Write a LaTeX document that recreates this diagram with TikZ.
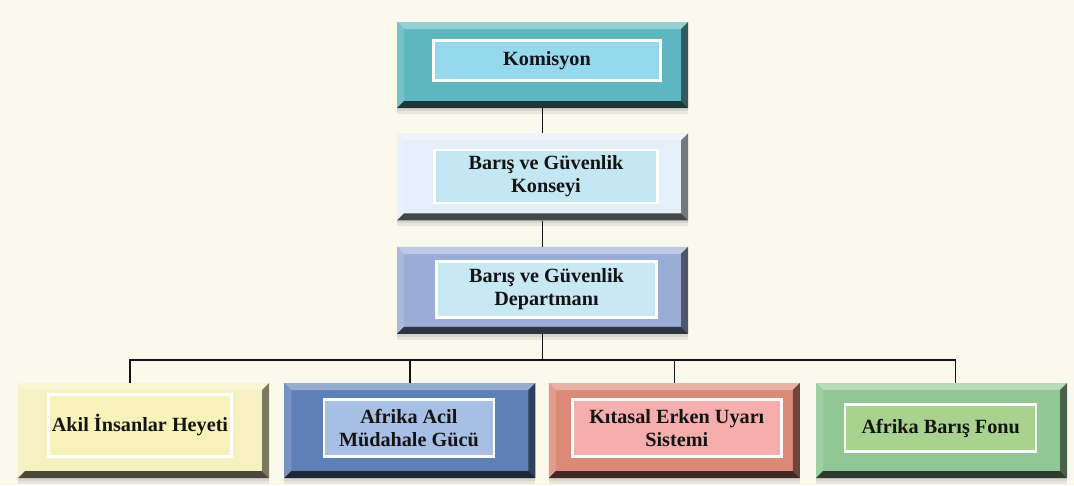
\documentclass[tikz,border=0pt]{standalone}
\usepackage{fontspec}
\setmainfont{Liberation Serif}
\usetikzlibrary{positioning}
\definecolor{paper}{HTML}{FBF8EC}
\definecolor{ink}{HTML}{141414}
\definecolor{komC}{HTML}{5DB7BF}
\definecolor{komI}{HTML}{96D8EC}
\definecolor{konC}{HTML}{E4F0F8}
\definecolor{konI}{HTML}{C5E7F4}
\definecolor{depC}{HTML}{9AADD6}
\definecolor{depI}{HTML}{C8E8F4}
\definecolor{akilC}{HTML}{F6F1C0}
\definecolor{akilI}{HTML}{F7F3B8}
\definecolor{acilC}{HTML}{5F80B7}
\definecolor{acilI}{HTML}{A7BEE5}
\definecolor{kitC}{HTML}{DB8A78}
\definecolor{kitI}{HTML}{F6AEAC}
\definecolor{fonC}{HTML}{91C795}
\definecolor{fonI}{HTML}{A8D28E}

\begin{document}
\begin{tikzpicture}[node distance=25pt, auto]
  \tikzset{
    bevel/.style={rectangle, fill=#1, inner sep=0pt, minimum width=291pt, minimum height=87pt,
      preaction={fill=black, fill opacity=0.07, transform canvas={yshift=-6pt}},
      preaction={fill=black, fill opacity=0.07, transform canvas={yshift=-3pt}},
      path picture={
        \coordinate (pnw) at (path picture bounding box.north west);
        \coordinate (pne) at (path picture bounding box.north east);
        \coordinate (pse) at (path picture bounding box.south east);
        \coordinate (psw) at (path picture bounding box.south west);
        \fill[#1!65!white] (pnw) -- (pne) -- ([shift={(-7pt,-7pt)}]pne) -- ([shift={(7pt,-7pt)}]pnw) -- cycle;
        \fill[#1!85!white] (pnw) -- ([shift={(7pt,-7pt)}]pnw) -- ([shift={(7pt,7pt)}]psw) -- (psw) -- cycle;
        \fill[#1!50!black] (pne) -- (pse) -- ([shift={(-7pt,7pt)}]pse) -- ([shift={(-7pt,-7pt)}]pne) -- cycle;
        \fill[#1!30!black] (psw) -- (pse) -- ([shift={(-7pt,7pt)}]pse) -- ([shift={(7pt,7pt)}]psw) -- cycle;
      }},
    inbox/.style={rectangle, draw=white, line width=2.5pt, fill=#1, inner sep=0pt, align=center,
      text=ink, font=\fontsize{20.2}{23}\selectfont\bfseries},
    low/.style={minimum width=251pt, minimum height=95pt}
  }
  \tikzstyle{line} = [draw, ink, line width=1.4pt]

  \fill[paper] (0,0) rectangle (1074pt,-485pt);

  \node [bevel=komC, minimum height=86pt] (kom) at (542.5pt,-65pt) {};
  \node [bevel=konC, below=25pt of kom] (konsey) {};
  \node [bevel=depC, below=26pt of konsey] (dept) {};
  \node [bevel=akilC, low] (akil) at (143.5pt,-430.5pt) {};
  \node [bevel=acilC, low, right=15pt of akil] (acil) {};
  \node [bevel=kitC, low, right=13pt of acil] (kitasal) {};
  \node [bevel=fonC, low, right=16pt of kitasal] (fonu) {};

  \node [inbox=komI, minimum width=227pt, minimum height=40pt] (kom-t) at ([shift={(4.5pt,4.5pt)}]kom) {Komisyon};
  \node [inbox=konI, minimum width=223pt, minimum height=53pt] (konsey-t) at ([shift={(3.5pt,0.5pt)}]konsey) {Barış ve Güvenlik\\Konseyi};
  \node [inbox=depI, minimum width=220pt, minimum height=56pt] (dept-t) at ([shift={(4pt,1pt)}]dept) {Barış ve Güvenlik\\Departmanı};
  \node [inbox=akilI, minimum width=183pt, minimum height=62pt] (akil-t) at ([shift={(-3.5pt,5pt)}]akil) {Akil İnsanlar Heyeti};
  \node [inbox=acilI, minimum width=170pt, minimum height=57pt] (acil-t) at ([shift={(-1pt,2.5pt)}]acil) {Afrika Acil\\Müdahale Gücü};
  \node [inbox=kitI, minimum width=209pt, minimum height=57pt] (kitasal-t) at ([shift={(2.5pt,2.5pt)}]kitasal) {Kıtasal Erken Uyarı\\Sistemi};
  \node [inbox=fonI, minimum width=191pt, minimum height=47pt] (fonu-t) at ([shift={(-1pt,2.5pt)}]fonu) {Afrika Barış Fonu};

  \coordinate [below=26pt of dept] (bus);

  \path [line] (kom) -- (konsey);
  \path [line] (konsey) -- (dept);
  \path [line] (dept) -- (bus);
  \path [line] (bus) -| ([xshift=-13.5pt]akil.north);
  \path [line] (bus) -| (acil.north);
  \path [line] (bus) -| (kitasal.north);
  \path [line] (bus) -| ([xshift=14pt]fonu.north);
\end{tikzpicture}
\end{document}
